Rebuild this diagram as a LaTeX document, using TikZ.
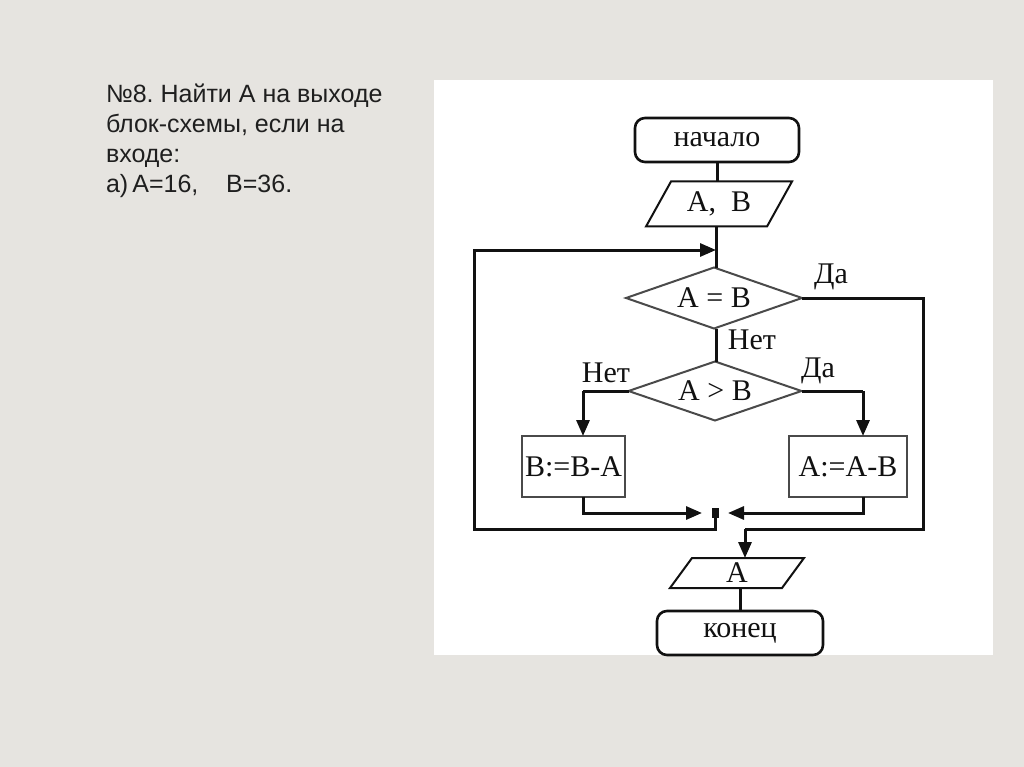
\documentclass[tikz,border=0pt]{standalone}
\usepackage{fontspec}
\setmainfont{Liberation Serif}
\newfontfamily\arialf{Liberation Sans}
\usetikzlibrary{shapes.geometric,arrows.meta,calc}
\frenchspacing
\definecolor{bg}{HTML}{E6E4E0}
\definecolor{ink}{HTML}{111111}
\definecolor{dline}{HTML}{4A4A4A}
\tikzset{
  every node/.style={inner sep=0pt, outer sep=0pt, text=ink},
  fc/.style={font=\fontsize{30}{30}\selectfont},
  term/.style={fc, draw=ink, line width=2.6pt, rounded corners=10pt, minimum width=164pt, minimum height=44pt},
  iotext/.style={fc, minimum height=45pt},
  cond/.style={fc, diamond, draw=dline, line width=2pt},
  proc/.style={fc, draw=dline, line width=2pt, minimum width=103pt, minimum height=61pt},
  para/.style={draw=ink, line width=2pt},
  conn/.style={draw=ink, line width=3pt},
  arr/.style={conn, -{Triangle[length=16pt,width=13pt]}},
  lbl/.style={fc},
  task/.style={anchor=base west, font=\arialf\fontsize{25}{25}\selectfont, text=black!88},
}
\begin{document}
\begin{tikzpicture}[x=1pt,y=-1pt]
\fill[bg] (0,0) rectangle (1024,767);
\fill[white] (434,80) rectangle (993,655);
\useasboundingbox (0,0) rectangle (1024,767);

% task text
\node[task] (t1) at (106,103) {№8. Найти А на выходе};
\node[task] (t2) at (106,133) {блок-схемы, если на};
\node[task] (t3) at (106,163) {входе:};
\node[task] (t4) at (106,193) {а)\,А=16,\ \ \ \ В=36.};

% flowchart
\node[term] (start) at (717,140) {начало};
\node[iotext, minimum width=121pt] (inp) at (719,204) {A,\ \ B};
\draw[para] ([xshift=12.5pt]inp.north west) -- ([xshift=12.5pt]inp.north east) -- ([xshift=-12.5pt]inp.south east) -- ([xshift=-12.5pt]inp.south west) -- cycle;
\node[cond, minimum width=176pt, minimum height=61pt, aspect=2.9] (d1) at (714,298) {A = B};
\node[cond, minimum width=173pt, minimum height=59pt, aspect=2.9] (d2) at (715,391) {A > B};
\node[proc] (b1) at (573.5,466.5) {B:=B-A};
\node[proc, minimum width=118pt] (b2) at (848,466.5) {A:=A-B};
\node[iotext, minimum width=112pt, minimum height=30pt] (out) at (737,573) {A};
\draw[para] ([xshift=11pt]out.north west) -- ([xshift=11pt]out.north east) -- ([xshift=-11pt]out.south east) -- ([xshift=-11pt]out.south west) -- cycle;
\node[term, minimum width=166pt] (end) at (740,633) {конец};

\coordinate (J1) at (716,250);
\coordinate (J2) at (715,513);
\coordinate (LB) at (474,529);
\coordinate (RB) at (923,529);
\coordinate (BL) at (583,391);
\coordinate (BR) at (863,391);

\draw[conn] (start) -- (start.south |- inp.north);
\draw[conn] (inp.south -| J1) -- (d1.north -| J1);
\draw[conn] (d1.south -| J1) -- (d2.north -| J1);
\draw[arr] (J2) -- (J2 |- LB) -- (LB) -- (LB |- J1) -- (J1);
\draw[conn] (d1.east) -- (RB |- d1.east) -- (RB) -- (745,529) coordinate (OT);
\draw[arr] (OT) -- (OT |- out.north);
\draw[conn] (d2.west) -- (BL);
\draw[arr] (BL) -- (BL |- b1.north);
\draw[conn] (d2.east) -- (BR);
\draw[arr] (BR) -- (BR |- b2.north);
\draw[arr, shorten >=13pt] (BL |- b1.south) -- (BL |- J2) -- (J2);
\draw[arr, shorten >=13pt] (BR |- b2.south) -- (BR |- J2) -- (J2);
\fill[ink] ($(J2)+(-3.5,-5)$) rectangle ($(J2)+(3.5,5)$);
\draw[conn] (out.south -| end) -- (end.north);

% labels
\node[lbl] (ly1) at (831,277) {Да};
\node[lbl] (ln1) at (752,340) {Нет};
\node[lbl] (ln2) at (606,373) {Нет};
\node[lbl] (ly2) at (818,371) {Да};
\end{tikzpicture}
\end{document}
